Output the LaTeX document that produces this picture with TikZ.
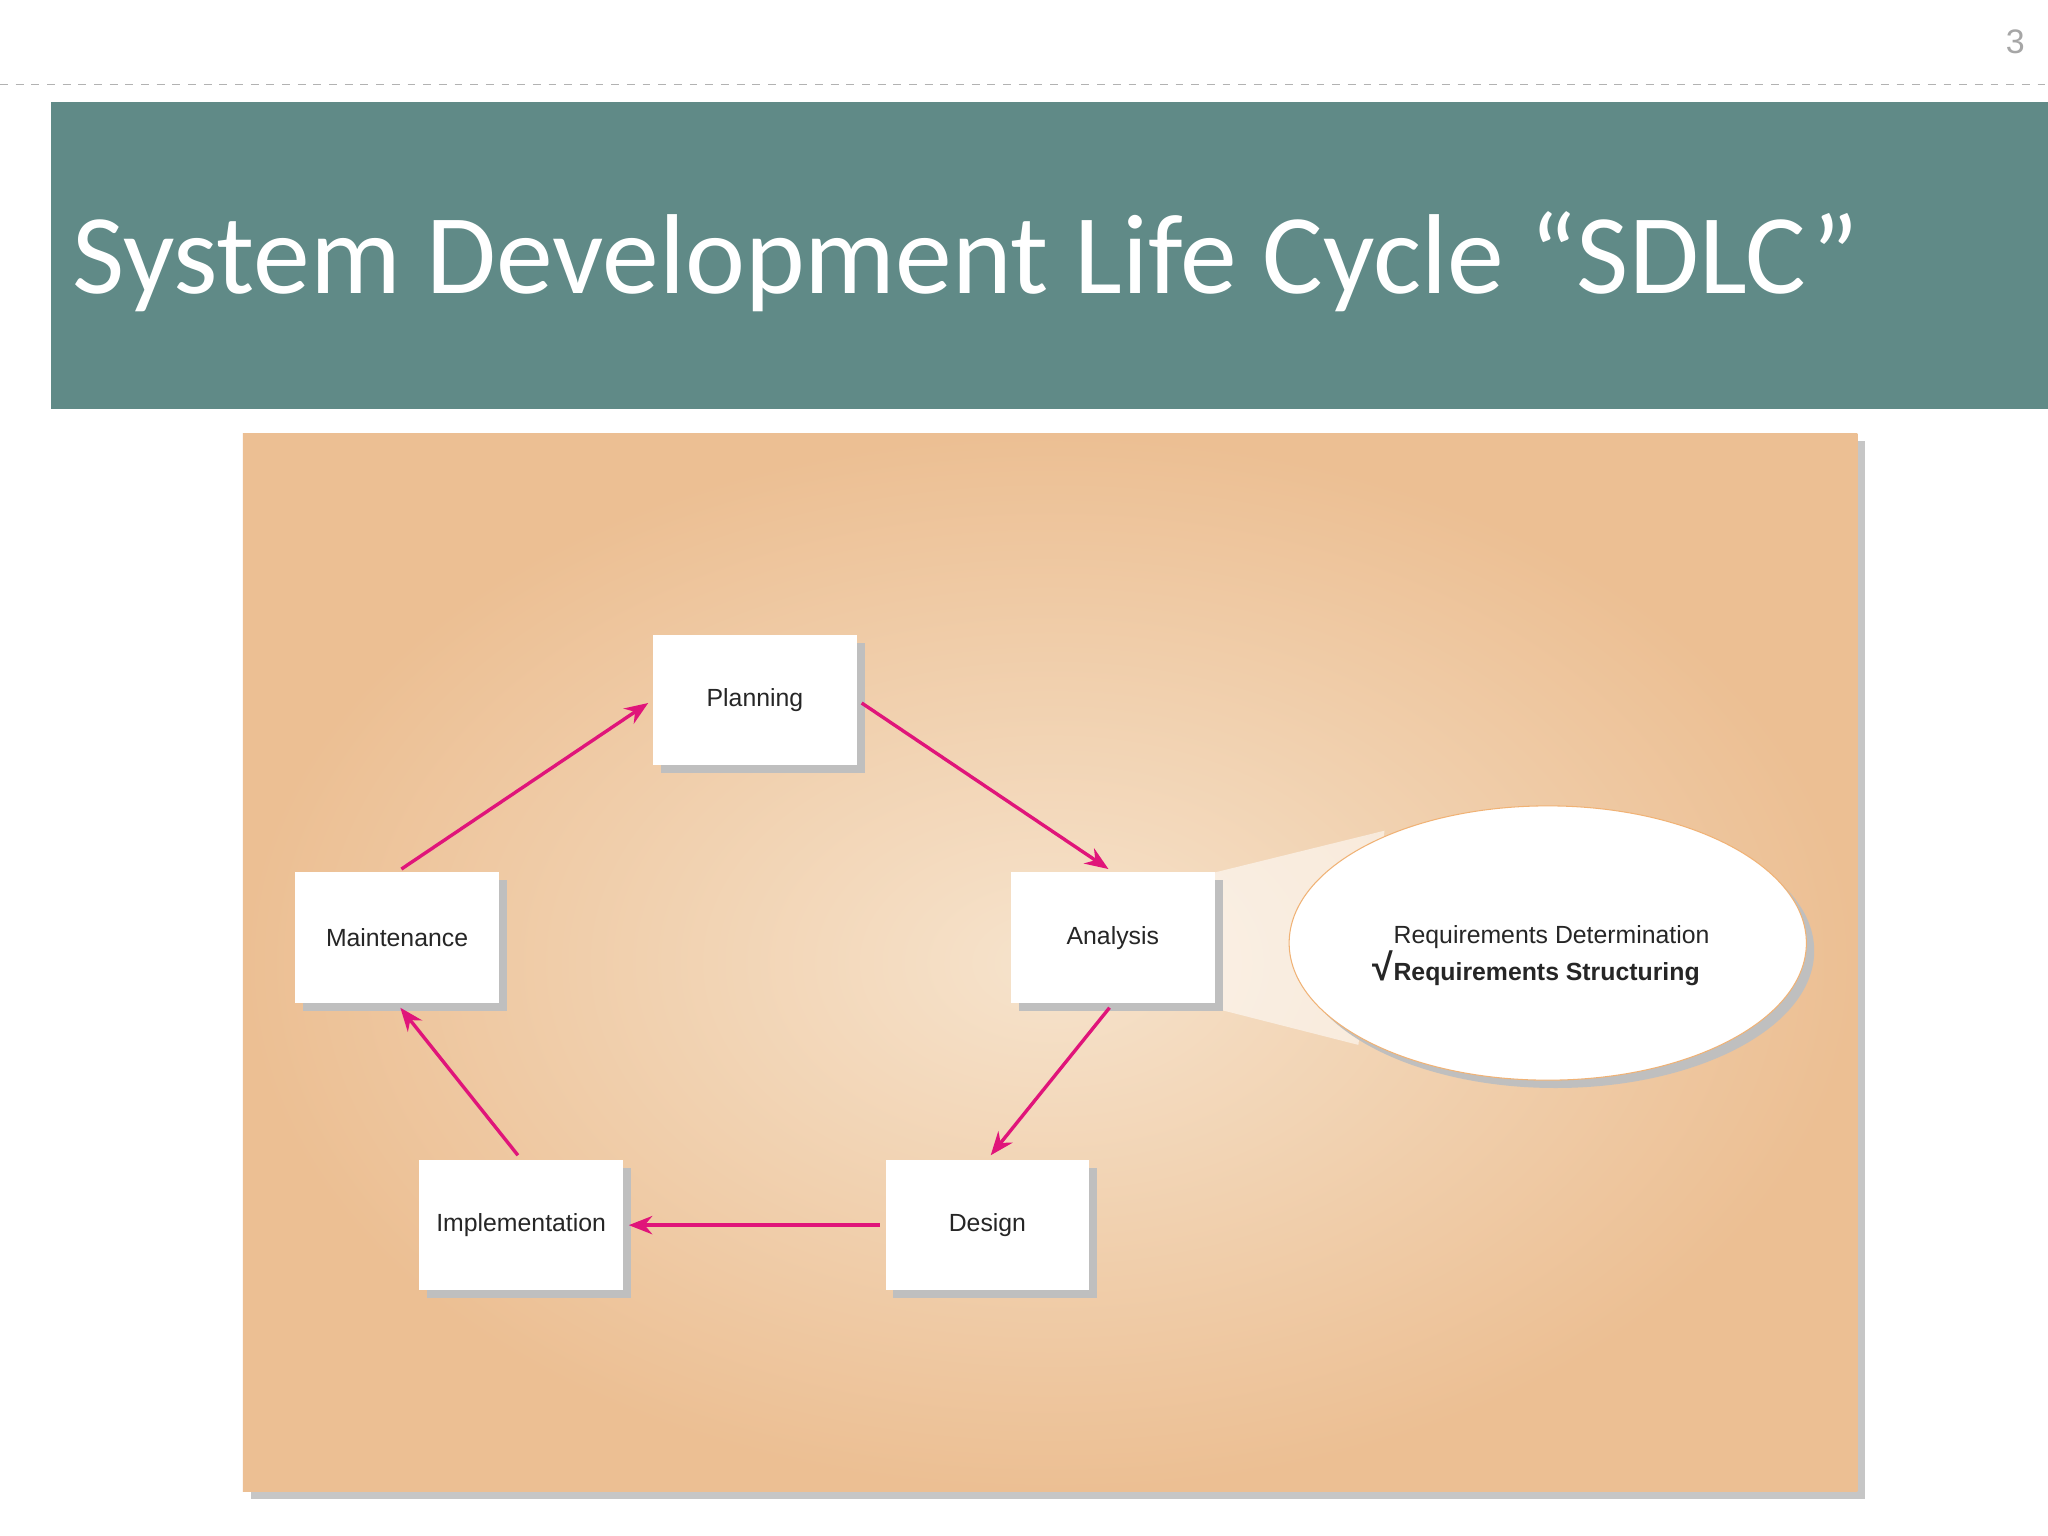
\documentclass[tikz,border=0pt]{standalone}
\usepackage{fontspec}
\setmainfont{Liberation Sans}
\newfontfamily\titlefont{Carlito}
\usetikzlibrary{arrows.meta,shapes.geometric}
\definecolor{teal1}{HTML}{608A87}
\definecolor{mag}{HTML}{E0157A}
\definecolor{panin}{HTML}{F6E3CC}
\definecolor{panout}{HTML}{ECBF93}
\tikzset{
 phase/.style={draw=none,fill=white,minimum width=78pt,minimum height=50pt,font=\fontsize{9.5}{12}\selectfont,text=black!85},
 cyc/.style={draw=mag,line width=1.3pt,-{Stealth[length=9pt,width=7pt]},shorten >=2pt,shorten <=2pt},
}
\begin{document}
\begin{tikzpicture}[x=0.5pt,y=-0.5pt]
\useasboundingbox (0,0) rectangle (1568,1176);
\fill[white] (0,0) rectangle (1568,1176);
\node[text=gray!70,font=\fontsize{13}{15}\selectfont] (pg) at (1543,32) {3};
\draw[gray!60,dashed] (0,65) -- (1568,65);
\fill[teal1] (39,78) rectangle (1568,313);
\node[anchor=base west,text=white,font=\titlefont\fontsize{43.5}{50}\selectfont,inner sep=0] (title) at (55,225) {System Development Life Cycle “SDLC”};
% panel
\fill[gray!45] (192,338) rectangle (1428,1148);
\shade[inner color=panin,outer color=panout] (186,332) rectangle (1422,1142);
% callout wedge
\fill[white,opacity=0.55] (930,668) -- (1060,636) -- (1040,800) -- (930,772) -- cycle;
% ellipse
\fill[gray!50] (1191,728) ellipse [x radius=198,y radius=105];
\node[draw=orange!60!brown!60,fill=white,ellipse,minimum width=198pt,minimum height=105pt,inner sep=0] (ell) at (1185,722) {};
\node[align=left,font=\fontsize{9.5}{13}\selectfont,text=black!85] (req) at (1180,727) {\phantom{\textbf{\Large√}}Requirements Determination\\\textbf{{\Large√}Requirements Structuring}};
% boxes with shadows
\foreach \x/\y in {578/536,852/718,756/938,399/938,304/718}
  \fill[gray!50] (\x-72,\y-44) rectangle (\x+84,\y+56);
\node[phase] (plan) at (578,536) {Planning};
\node[phase] (ana) at (852,718) {Analysis};
\node[phase] (des) at (756,938) {Design};
\node[phase] (imp) at (399,938) {Implementation};
\node[phase] (mnt) at (304,718) {Maintenance};
\draw[cyc] (plan.east) -- (ana.north);
\draw[cyc] (ana.south) -- (des.north);
\draw[cyc] (des.west) -- (imp.east);
\draw[cyc] (imp.north) -- (mnt.south);
\draw[cyc] (mnt.north) -- (plan.west);
\end{tikzpicture}
\end{document}
